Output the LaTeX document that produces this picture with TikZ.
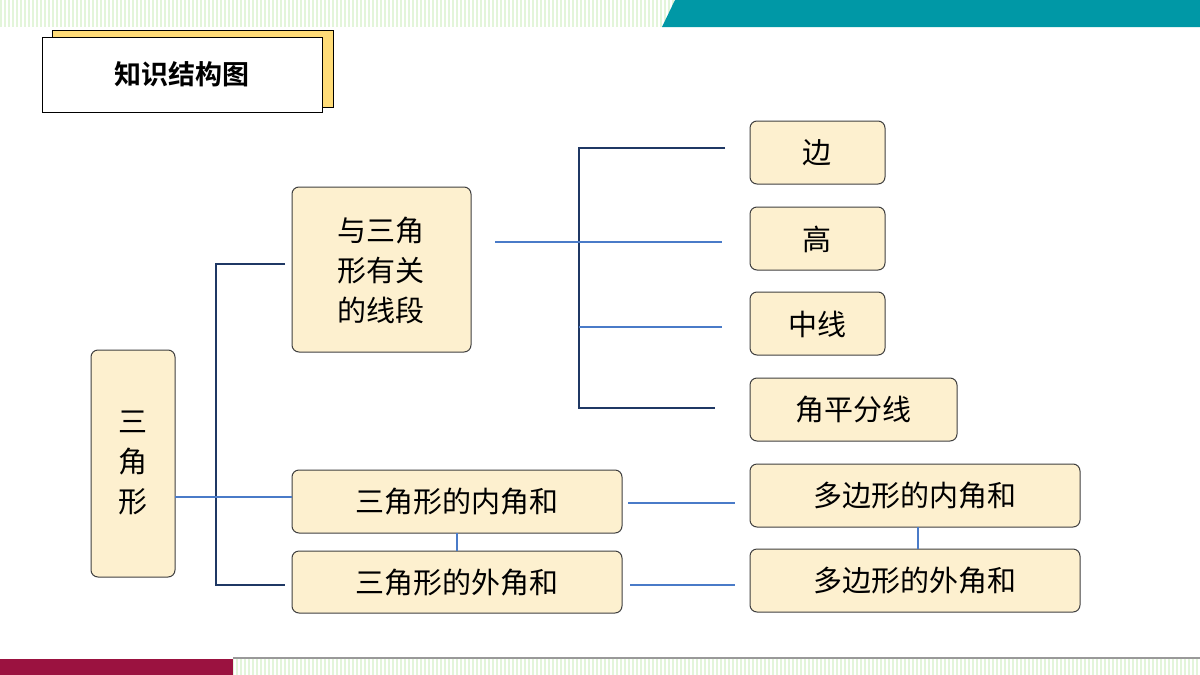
\documentclass[tikz,border=0pt]{standalone}
\usepackage{fontspec}
\setmainfont{Noto Sans CJK SC}
\newfontfamily\cjkb[BoldFont={* Bold}]{Noto Sans CJK SC}
\begin{document}
\begin{tikzpicture}[x=1pt,y=-1pt,
  bx/.style={draw=black!75,line width=1pt,rounded corners=7pt,fill=cream,inner sep=0pt},
  dk/.style={draw=navy,line width=1.5pt},
  lt/.style={draw=lblue,line width=1.2pt}]
\definecolor{cream}{HTML}{FDF0CF}
\definecolor{navy}{HTML}{1F3864}
\definecolor{lblue}{HTML}{4A7BC8}
\definecolor{teal}{HTML}{0098A6}
\definecolor{crim}{HTML}{9B1240}
\definecolor{stripe}{HTML}{E3F5DA}
\useasboundingbox (0,0) rectangle (1200,675);
\fill[white] (0,0) rectangle (1200,675);
\foreach \i in {0,4,...,1196} {\fill[stripe] (\i,0) rectangle (\i+2,27); \fill[stripe] (\i,659) rectangle (\i+2,675);}
\fill[teal] (675,0) -- (1200,0) -- (1200,27) -- (662,27) -- cycle;
\fill[crim] (0,659) rectangle (233,675);
\fill[black!40] (233,657) rectangle (1200,659);
% title
\draw[fill={rgb,255:red,255;green,220;blue,120},line width=1pt] (52,30) rectangle (333,107);
\draw[fill=white,line width=1pt] (42,37) rectangle (322,112);
\node (title) at (182,74) {\cjkb\bfseries\fontsize{27}{30}\selectfont 知识结构图};
\tikzset{font=\fontsize{29}{40}\selectfont}
\path[bx] (91,350) rectangle (175,577);
\node[align=center] (san) at (133,463) {三\\角\\形};
\coordinate (sanR) at (175,497);
\path[bx] (292,187) rectangle (471,352);
\node[align=center] (xd) at (381,270) {与三角\\形有关\\的线段};
\path[bx] (750,121) rectangle (885,184); \node (bian) at (817,153) {边};
\path[bx] (750,207) rectangle (885,270); \node (gao) at (817,239) {高};
\path[bx] (750,292) rectangle (885,355); \node (zx) at (817,324) {中线};
\path[bx] (750,378) rectangle (957,441); \node (jp) at (853,410) {角平分线};
\path[bx] (292,470) rectangle (622,533); \node (nj) at (457,502) {三角形的内角和};
\path[bx] (292,551) rectangle (622,613); \node (wj) at (457,583) {三角形的外角和};
\path[bx] (750,464) rectangle (1080,527); \node (dnj) at (915,496) {多边形的内角和};
\path[bx] (750,549) rectangle (1080,612); \node (dwj) at (915,581) {多边形的外角和};
% connectors
\draw[dk] (285,264) -- (216,264) -- (216,585) -- (285,585);
\draw[lt] (sanR) -- (292,497);
\draw[dk] (725,148) -- (579,148) -- (579,408) -- (715,408);
\draw[lt] (495,242) -- (722,242);
\draw[lt] (579,327) -- (722,327);
\draw[lt] (628,503) -- (735,503);
\draw[lt] (630,585) -- (735,585);
\draw[lt] (457,533) -- (457,551);
\draw[lt] (918,527) -- (918,549);
\end{tikzpicture}
\end{document}
